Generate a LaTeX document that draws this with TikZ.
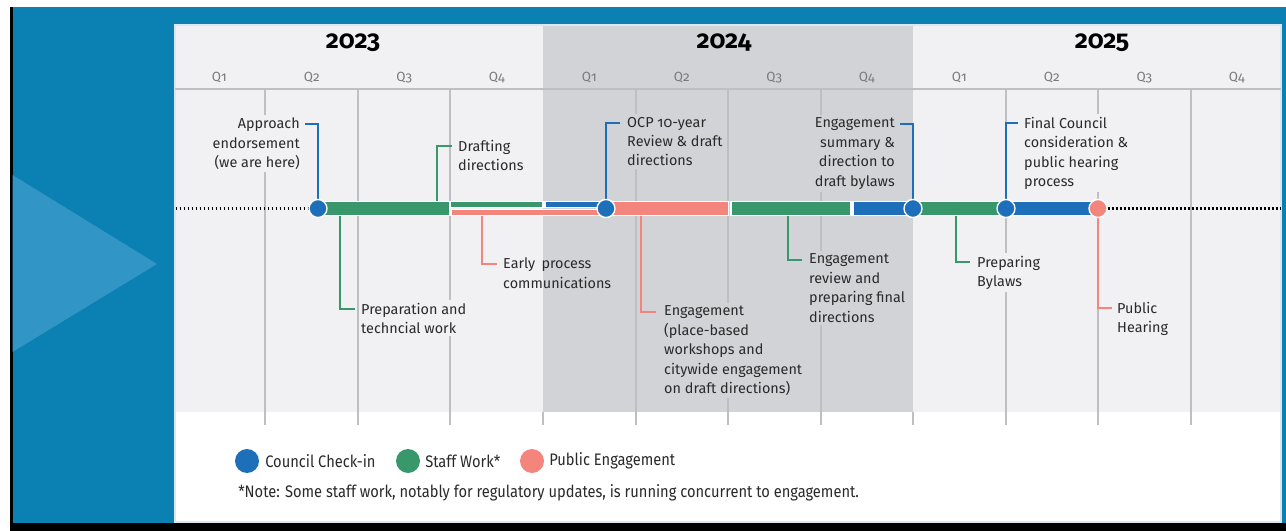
\documentclass[tikz,border=0pt]{standalone}
\usepackage{fontspec}
\setmainfont{Fira Sans}[Numbers=OldStyle]
\newfontfamily\legendfont{Fira Sans}[FakeStretch=0.88]
\usetikzlibrary{calc}

\definecolor{bgblue}{HTML}{0A80B3}
\definecolor{triblue}{HTML}{3196C5}
\definecolor{panelbg}{HTML}{F1F1F4}
\definecolor{greyband}{HTML}{D1D3D6}
\definecolor{gridcol}{HTML}{BEBFC3}
\definecolor{edgecol}{HTML}{DCE6EE}
\definecolor{cblue}{HTML}{1E6FBA}
\definecolor{cgreen}{HTML}{38986C}
\definecolor{cred}{HTML}{F3857C}
\definecolor{ink}{HTML}{2A2A2A}
\definecolor{qgray}{HTML}{7A7A7E}

\tikzset{
  year/.style={font=\fontsize{19}{21}\bfseries\selectfont, text=black, inner sep=0pt},
  quarter/.style={font=\fontsize{10}{12}\selectfont, text=qgray, inner sep=0pt},
  gridline/.style={draw=gridcol, line width=0.9pt},
  dotline/.style={draw=black, line width=1.6pt, dash pattern=on 1.4pt off 1.6pt},
  seg/.style={draw=white, line width=0.9pt},
  conn/.style={line width=1.5pt},
  dot/.style={circle, draw=white, line width=1pt, minimum size=13.5pt, inner sep=0pt},
  lab/.style={font=\fontsize{10.8}{14.6}\selectfont, text=ink, align=left, inner sep=2pt, anchor=north west},
  rlab/.style={lab, align=right, anchor=north east},
  legdot/.style={circle, minimum size=18pt, inner sep=0pt},
  legtext/.style={font=\legendfont\fontsize{12.5}{14}\selectfont, text=ink, anchor=west, inner sep=0pt},
}

\begin{document}
\begin{tikzpicture}[x=0.75pt,y=-0.75pt]
\useasboundingbox (0,0) rectangle (1286,531);

% page frame and blue backdrop
\fill[white] (0,0) rectangle (1286,531);
\fill[black] (10,7.3) rectangle (1286,531);
\fill[bgblue] (12.5,7.3) rectangle (1286,523);
\fill[triblue] (12.5,175) -- (157,264) -- (12.5,352) -- cycle;

% timeline panel
\fill[white] (175,25) rectangle (1281,522);
\fill[panelbg] (175,25) rectangle (1281,412);
\fill[greyband] (543,25) rectangle (913,412);
\draw[edgecol, line width=0.8pt] (175,25) rectangle (1281,522);
\draw[gridline] (175,89) -- (1281,89);
\foreach \x in {265,358,450,636,728,821,1006,1098,1191}
  \draw[gridline] (\x,89) -- (\x,425);
\foreach \x in {543,913}
  \draw[gridline] (\x,412) -- (\x,425);

% years and quarters
\node[year] (y23) at (353,43) {2023};
\node[year] (y24) at (724,43) {2024};
\node[year] (y25) at (1102,43) {2025};
\foreach \yr/\xs in {a/173,b/543,c/913}
  \foreach \q in {1,2,3,4}
    \node[quarter] (q\yr\q) at ({\xs+92.5*\q-46.25},78) {Q\q};

% milestones
\node[dot, fill=cblue] (d1) at (318,208.5) {};
\node[dot, fill=cblue] (d2) at (606,208.5) {};
\node[dot, fill=cblue] (d3) at (913,208.5) {};
\node[dot, fill=cblue] (d4) at (1006,208.5) {};
\node[dot, fill=cred]  (d5) at (1098,208.5) {};

% connector feet on the bars
\coordinate (s2) at (437,202);
\coordinate (s3) at (340,215);
\coordinate (s4) at (482,215);
\coordinate (s6) at (641,215);
\coordinate (s7) at (788,215);
\coordinate (s9) at (956,215);

% connector ends beside the labels
\coordinate (e1) at (305,124);
\coordinate (e2) at (452,146);
\coordinate (e3) at (355,309);
\coordinate (e4) at (497,264);
\coordinate (e5) at (620,123);
\coordinate (e6) at (656,312);
\coordinate (e7) at (802,260);
\coordinate (e8) at (900,124);
\coordinate (e9) at (970,262);
\coordinate (e10) at (1018,123);
\coordinate (e11) at (1112,308);

% labels
\node[rlab, fill=panelbg] (l1) at (302.7,115) {Approach\\endorsement\\(we are here)};
\node[lab, fill=panelbg] (l2) at (455.3,137) {Drafting\\directions};
\node[lab, fill=panelbg] (l3) at (358.3,300) {Preparation and\\techncial work};
\node[lab] (l4) at (500.3,255) {Early\ \,process\\communications};
\node[lab, fill=greyband] (l5) at (624.3,114) {OCP 10-year\\Review \& draft\\directions};
\node[lab, fill=greyband] (l6) at (661.3,303) {Engagement\\(place-based\\workshops and\\citywide engagement\\on draft directions)};
\node[lab, fill=greyband] (l7) at (806.3,251) {Engagement\\review and\\preparing final\\directions};
\node[rlab, fill=greyband] (l8) at (897.7,115) {Engagement\\summary \&\\direction to\\draft bylaws};
\node[lab, fill=panelbg] (l9) at (974.3,253) {Preparing\\Bylaws};
\node[lab, fill=panelbg] (l10) at (1021.3,114) {Final Council\\consideration \&\\public hearing\\process};
\node[lab, fill=panelbg] (l11) at (1114.3,299) {Public\\Hearing};

% connectors
\draw[conn, cblue]  (d1.center) |- (e1);
\draw[conn, cgreen] (s2) |- (e2);
\draw[conn, cgreen] (s3) |- (e3);
\draw[conn, cred]   (s4) |- (e4);
\draw[conn, cblue]  (d2.center) |- (e5);
\draw[conn, cred]   (s6) |- (e6);
\draw[conn, cgreen] (s7) |- (e7);
\draw[conn, cblue]  (d3.center) |- (e8);
\draw[conn, cgreen] (s9) |- (e9);
\draw[conn, cblue]  (d4.center) |- (e10);
\draw[conn, cred]   (d5.center) |- (e11);

% dotted lead-in and lead-out
\draw[dotline] (175.5,208.5) -- (d1.west);
\draw[dotline] (d5.east) -- (1280,208.5);

% bars: full-height and half-height segments
\fill[cgreen, seg] (318,201.5) rectangle (450,215.5);
\fill[cgreen, seg] (450,201.5) rectangle (543,207.6);
\fill[cblue, seg]  (545,201.5) rectangle (606,207.6);
\fill[cred, seg]   (451,209.3) rectangle (606,215.7);
\fill[cred, seg]   (606,201.5) rectangle (728.5,215.5);
\fill[cgreen, seg] (731,201.5) rectangle (851,215.5);
\fill[cblue, seg]  (853,201.5) rectangle (913,215.5);
\fill[cgreen, seg] (913,201.5) rectangle (1006,215.5);
\fill[cblue, seg]  (1006,201.5) rectangle (1098,215.5);

% milestone dots on top
\foreach \n/\c in {d1/cblue,d2/cblue,d3/cblue,d4/cblue,d5/cred}
  \node[dot, fill=\c] at (\n) {};

% legend
\node[legdot, fill=cblue]  (k1) at (247,461) {};
\node[legtext] (t1) at (265,461) {Council Check-in};
\node[legdot, fill=cgreen] (k2) at (408,461) {};
\node[legtext] (t2) at (425,461) {Staff Work*};
\node[legdot, fill=cred]   (k3) at (532,461) {};
\node[legtext] (t3) at (549,461) {Public Engagement};
\node[legtext] (note) at (238,493) {*Note: Some staff work, notably for regulatory updates, is running concurrent to engagement.};
\end{tikzpicture}
\end{document}
